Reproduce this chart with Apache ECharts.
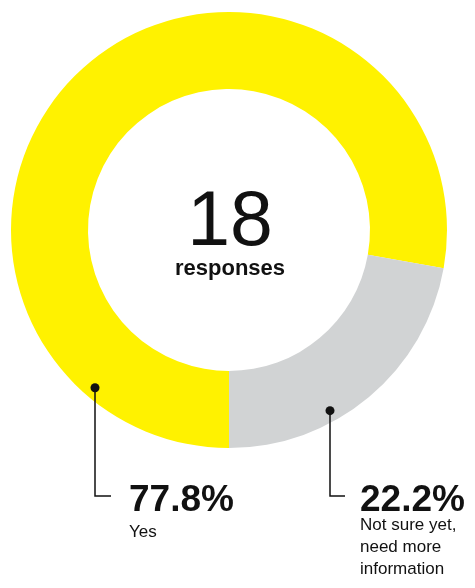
<!DOCTYPE html>
<html>
<head>
<meta charset="utf-8">
<script src="https://cdn.jsdelivr.net/npm/echarts@6/dist/echarts.min.js"></script>
<style>
  html, body { margin: 0; padding: 0; background: #ffffff; }
  #chart { width: 475px; height: 588px; }
</style>
</head>
<body>
<div id="chart"></div>
<script>
// Survey answers (share of responses, %)
const categories = ['Yes', 'Not sure yet,\nneed more\ninformation'];
const shares = [77.8, 22.2];
const totalResponses = 18;
const totalCaption = 'responses';

// Look & layout
const sliceColors = ['#FFF200', '#D1D3D4'];
const FONT = '"Liberation Sans", Arial, Helvetica, sans-serif';
const cx = 229, cy = 230;
const rInner = 141, rOuter = 218;
const dotRadius = 207;          // ring radius where the leader dots sit
const leaderX = [95, 330];      // x of each vertical leader
const elbowY = 496;             // y where leaders turn right
const leaderEndX = [111, 345];
const labelX = [129, 360];
const labelTop = [481, 488];
const valueLineHeight = [40, 26];

function dotPoint(i) {
  const dx = leaderX[i] - cx;
  return [leaderX[i], cy + Math.sqrt(dotRadius * dotRadius - dx * dx)];
}

const chart = echarts.init(document.getElementById('chart'), null, { renderer: 'canvas' });

const pieData = categories.map((name, i) => ({
  name: name,
  value: shares[i],
  itemStyle: { color: sliceColors[i] },
  label: {
    rich: {
      v: { fontFamily: FONT, fontSize: 37, fontWeight: 'bold', color: '#111', lineHeight: valueLineHeight[i] },
      n: { fontFamily: FONT, fontSize: 17, color: '#111', lineHeight: 22 }
    }
  }
}));

// Leader lines with a dot on the ring, drawn above the slices
const leaders = categories.map((c, i) => {
  const d = dotPoint(i);
  return [
    {
      type: 'polyline', z: 10,
      shape: { points: [d, [leaderX[i], elbowY], [leaderEndX[i], elbowY]] },
      style: { stroke: '#111', lineWidth: 1.5, fill: null }
    },
    { type: 'circle', z: 11, shape: { cx: d[0], cy: d[1], r: 4.5 }, style: { fill: '#111' } }
  ];
}).flat();

chart.setOption({
  animation: false,
  backgroundColor: '#ffffff',
  series: [{
    type: 'pie',
    center: [cx, cy],
    radius: [rInner, rOuter],
    startAngle: 270,
    clockwise: true,
    avoidLabelOverlap: false,
    emphasis: { disabled: true },
    silent: true,
    label: {
      show: true,
      position: 'outside',
      formatter: p => '{v|' + p.value.toFixed(1) + '%}\n{n|' + p.name + '}'
    },
    labelLine: { show: false },
    labelLayout: function (params) {
      const i = params.dataIndex;
      return { x: labelX[i], y: labelTop[i], align: 'left', verticalAlign: 'top' };
    },
    data: pieData
  }],
  graphic: [
    {
      type: 'text',
      x: cx + 1, y: 224,
      style: { text: String(totalResponses), fill: '#111', font: '77px ' + FONT, align: 'center', verticalAlign: 'middle' }
    },
    {
      type: 'text',
      x: cx + 1, y: 269,
      style: { text: totalCaption, fill: '#111', font: 'bold 22px ' + FONT, align: 'center', verticalAlign: 'middle' }
    }
  ].concat(leaders)
});
</script>
</body>
</html>
